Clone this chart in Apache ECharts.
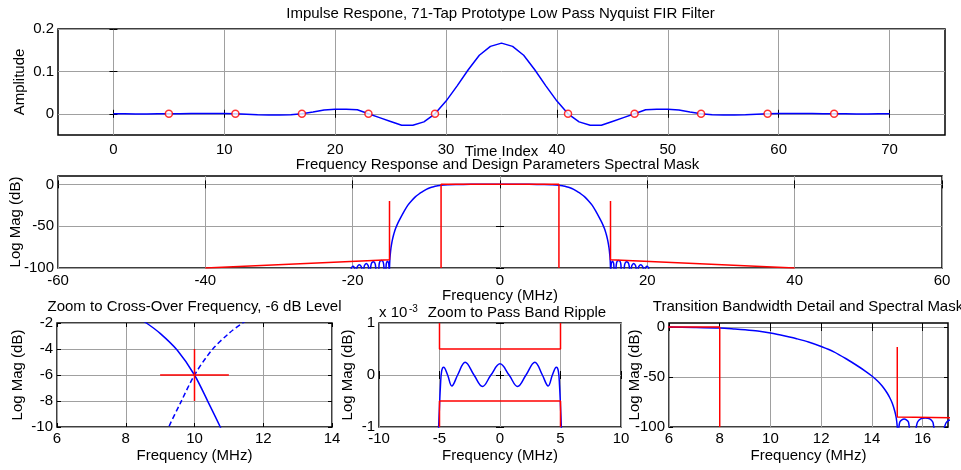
<!DOCTYPE html>
<html><head><meta charset="utf-8">
<script src="https://cdn.jsdelivr.net/npm/echarts@6/dist/echarts.min.js"></script>
<style>html,body{margin:0;padding:0;background:#fff}#c{width:961px;height:470px}</style>
</head><body><div id="c"></div>
<script>
// ---------- DATA ----------
// 71-tap impulse response, sample n = array index
const impulse = [-0.00005,-0.0001,-0.0002,-0.0002,-0.0001,0,0.0003,0.0006,0.0009,0.0009,
  0.0007,0,-0.001,-0.0022,-0.003,-0.003,-0.0022,0,0.004,0.0087,
  0.011,0.011,0.0094,0,-0.009,-0.018,-0.027,-0.027,-0.019,0,
  0.030,0.066,0.104,0.138,0.159,0.1667,0.159,0.138,0.104,0.066,
  0.030,0,-0.019,-0.027,-0.027,-0.018,-0.009,0,0.0094,0.011,
  0.011,0.0087,0.004,0,-0.0022,-0.003,-0.003,-0.0022,-0.001,0,
  0.0007,0.0009,0.0009,0.0006,0.0003,0,-0.0001,-0.0002,-0.0002,-0.0001,-0.00005];
const zeroTaps = [5,11,17,23,29,41,47,53,59,65];
const zeroTapValues = [0,0,0,0,0,0,0,0,0,0];

// Frequency response, positive frequencies (MHz) and log magnitude (dB); symmetric about 0
const respFreq = [0,4,6,7,8,8.6,9.0,9.5,10.0,10.4,10.75,11.0,11.5,12.0,12.5,13.0,13.5,13.75,14.0,14.15,14.3,14.45,14.6,14.7,14.8,14.9,14.96,15.0,15.03,
  15.06,15.1,15.18,15.27,15.36,15.44,15.48,15.6,
  15.74,15.8,15.92,16.1,16.28,16.4,16.45,16.65,
  16.85,16.92,17.02,17.2,17.38,17.5,17.58,17.7,
  17.82,17.9,18.15,18.4,18.48,18.6,
  18.75,18.85,19.1,19.35,19.45,19.6,
  19.7,19.8,19.95,20.1,20.2,20.35,60];
const respDb = [0,0,-0.1,-0.4,-1.0,-2.0,-2.8,-4.1,-6.0,-8.1,-10.0,-11.5,-15.0,-19.5,-24.8,-32,-40,-44.3,-49,-52.3,-56,-60.5,-66,-70.5,-76,-84,-91,-100,-112,
  -101,-95,-92.8,-92,-92.8,-95,-101,-112,
  -101,-95,-91.8,-91,-91.8,-95,-101,-112,
  -101,-96,-93.5,-92.5,-93.5,-96,-101,-112,
  -101,-97,-94.5,-97,-101,-112,
  -101,-98,-96,-98,-101,-112,
  -101,-99,-98,-99,-101,-112,-115];

// Spectral mask
const maskPassFreq = [-8,-8,8,8];
const maskPassDb = [-100,0,0,-100];
const maskStopFreq = [15,15,40];
const maskStopDb = [-20,-90,-100];

// Cross-over marker
const crossHFreq = [9,11];   const crossHDb = [-6,-6];
const crossVFreq = [10,10];  const crossVDb = [-4,-8];

// Pass band ripple (x 1e-3 dB), positive frequencies; symmetric about 0
const rippleFreq = [0,0.75,1.45,2.15,2.88,3.5,3.98,4.33,4.66,4.82,4.92,5.0,5.07,5.12];
const rippleVal = [0.215,0,-0.22,0,0.245,0,-0.21,0,0.15,0.08,-0.2,-0.6,-1.0,-1.4];
const rippleMaskFreq = [-5,-5,5,5];
const rippleMaskTop = [1,0.5,0.5,1];
const rippleMaskBot = [-1,-0.5,-0.5,-1];

// Tick values
const impXTicks = [0,10,20,30,40,50,60,70];
const impYTicks = [0,0.1,0.2];
const frXTicks = [-60,-40,-20,0,20,40,60];
const frYTicks = [-100,-50,0];
const coXTicks = [6,8,10,12,14];
const coYTicks = [-10,-8,-6,-4,-2];
const pbXTicks = [-10,-5,0,5,10];
const pbYTicks = [-1,0,1];
const tbXTicks = [6,8,10,12,14,16];
const tbYTicks = [-100,-50,0];

// ---------- BUILD ----------
const FONT = '"Liberation Sans", Arial, sans-serif';
const FS = 15;
const BLUE = '#0000ff', RED = '#ff0000';
const txt = {color:'#000', fontSize:FS, fontFamily:FONT};

const grids = [
  {left:58, top:29, width:887, height:106},
  {left:57, top:176, width:885, height:92},
  {left:57, top:323, width:275, height:104},
  {left:379, top:323, width:242, height:104},
  {left:669, top:323, width:279, height:104}
].map(g => Object.assign({show:true, borderColor:'#000', borderWidth:1.5, backgroundColor:'transparent', containLabel:false}, g));

const xAxes = [], yAxes = [];
function addX(gi, min, max, ticks, name, nameGap, margin) {
  xAxes.push({type:'value', gridIndex:gi, position:'bottom', min, max,
    axisLine:{show:false},
    axisTick:{show:true, inside:true, length:4, lineStyle:{color:'#000'}, customValues:ticks},
    axisLabel:Object.assign({show:true, margin, customValues:ticks}, txt),
    splitLine:{show:true, lineStyle:{color:'#a0a0a0', width:1}},
    name, nameLocation:'middle', nameGap, nameMoveOverlap:false, nameTextStyle:txt});
  xAxes.push({type:'value', gridIndex:gi, position:'top', min, max,
    axisLine:{show:false},
    axisTick:{show:true, inside:true, length:4, lineStyle:{color:'#000'}, customValues:ticks},
    axisLabel:{show:false}, splitLine:{show:false}});
}
function addY(gi, min, max, ticks, name, nameGap) {
  yAxes.push({type:'value', gridIndex:gi, position:'left', min, max,
    axisLine:{show:false},
    axisTick:{show:true, inside:true, length:4, lineStyle:{color:'#000'}, customValues:ticks},
    axisLabel:Object.assign({show:true, margin:4, customValues:ticks}, txt),
    splitLine:{show:true, lineStyle:{color:'#a0a0a0', width:1}},
    name, nameLocation:'middle', nameGap, nameMoveOverlap:false, nameTextStyle:txt});
  yAxes.push({type:'value', gridIndex:gi, position:'right', min, max,
    axisLine:{show:false},
    axisTick:{show:true, inside:true, length:4, lineStyle:{color:'#000'}, customValues:ticks},
    axisLabel:{show:false}, splitLine:{show:false}});
}
addX(0, -5, 75, impXTicks, 'Time Index', 9, 7);
addY(0, -0.05, 0.2, impYTicks, 'Amplitude', 31);
addX(1, -60, 60, frXTicks, 'Frequency (MHz)', 20, 5);
addY(1, -100, 10, frYTicks, 'Log Mag (dB)', 35);
addX(2, 6, 14, coXTicks, 'Frequency (MHz)', 21, 4);
addY(2, -10, -2, coYTicks, 'Log Mag (dB)', 32);
addX(3, -10, 10, pbXTicks, 'Frequency (MHz)', 21, 4);
addY(3, -1, 1, pbYTicks, 'Log Mag (dB)', 24);
addX(4, 6, 17, tbXTicks, 'Frequency (MHz)', 21, 4);
addY(4, -100, 4, tbYTicks, 'Log Mag (dB)', 27);

const zip = (a, b) => a.map((v, i) => [v, b[i]]);
const respPos = zip(respFreq, respDb);
const respFull = respPos.slice().reverse().filter(p => p[0] > 0).map(p => [-p[0], p[1]]).concat(respPos);
const respMirror20 = respPos.map(p => [20 - p[0], p[1]]);
const ripplePos = zip(rippleFreq, rippleVal);
const rippleFull = ripplePos.slice().reverse().filter(p => p[0] > 0).map(p => [-p[0], p[1]]).concat(ripplePos);
const stopR = zip(maskStopFreq, maskStopDb);
const stopL = stopR.map(p => [-p[0], p[1]]);

function line(gi, data, color, extra) {
  return Object.assign({type:'line', xAxisIndex:2*gi, yAxisIndex:2*gi, data, showSymbol:false, symbol:'none',
    lineStyle:{color, width:1.5}, itemStyle:{color}, clip:true, animation:false, z:3}, extra || {});
}

const series = [
  line(0, impulse.map((v, i) => [i, v]), BLUE),
  {type:'scatter', xAxisIndex:0, yAxisIndex:0, data:zip(zeroTaps, zeroTapValues), symbol:'circle', symbolSize:7,
   itemStyle:{color:'#fff', borderColor:RED, borderWidth:1.5}, z:4, animation:false},
  line(1, respFull, BLUE, {smooth:0.3}),
  line(1, zip(maskPassFreq, maskPassDb), RED),
  line(1, stopL, RED),
  line(1, stopR, RED),
  line(2, respPos, BLUE, {smooth:0.3}),
  line(2, respMirror20, BLUE, {smooth:0.3, lineStyle:{color:BLUE, width:1.5, type:[5,3]}}),
  line(2, zip(crossHFreq, crossHDb), RED),
  line(2, zip(crossVFreq, crossVDb), RED),
  line(3, rippleFull, BLUE, {smooth:0.4}),
  line(3, zip(rippleMaskFreq, rippleMaskTop), RED),
  line(3, zip(rippleMaskFreq, rippleMaskBot), RED),
  line(4, respPos, BLUE, {smooth:0.3}),
  line(4, zip(maskPassFreq, maskPassDb), RED),
  line(4, stopR, RED)
];

function title(text, x, y) {
  return {type:'text', x, y, style:{text, textAlign:'center', textVerticalAlign:'middle', fill:'#000', font:FS + 'px ' + FONT}};
}
const graphic = [
  title('Impulse Respone, 71-Tap Prototype Low Pass Nyquist FIR Filter', 500.5, 14),
  title('Frequency Response and Design Parameters Spectral Mask', 497.5, 165),
  title('Zoom to Cross-Over Frequency, -6 dB Level', 194.5, 307),
  title('Zoom to Pass Band Ripple', 517, 313),
  title('Transition Bandwidth Detail and Spectral Mask', 808, 307),
  {type:'text', x:379, y:313, style:{text:'x 10', textAlign:'left', textVerticalAlign:'middle', fill:'#000', font:FS + 'px ' + FONT}},
  {type:'text', x:409, y:309, style:{text:'-3', textAlign:'left', textVerticalAlign:'middle', fill:'#000', font:'10px ' + FONT}}
];

const chart = echarts.init(document.getElementById('c'), null, {renderer:'canvas'});
chart.setOption({animation:false, backgroundColor:'#fff', grid:grids, xAxis:xAxes, yAxis:yAxes, series, graphic});
</script></body></html>
